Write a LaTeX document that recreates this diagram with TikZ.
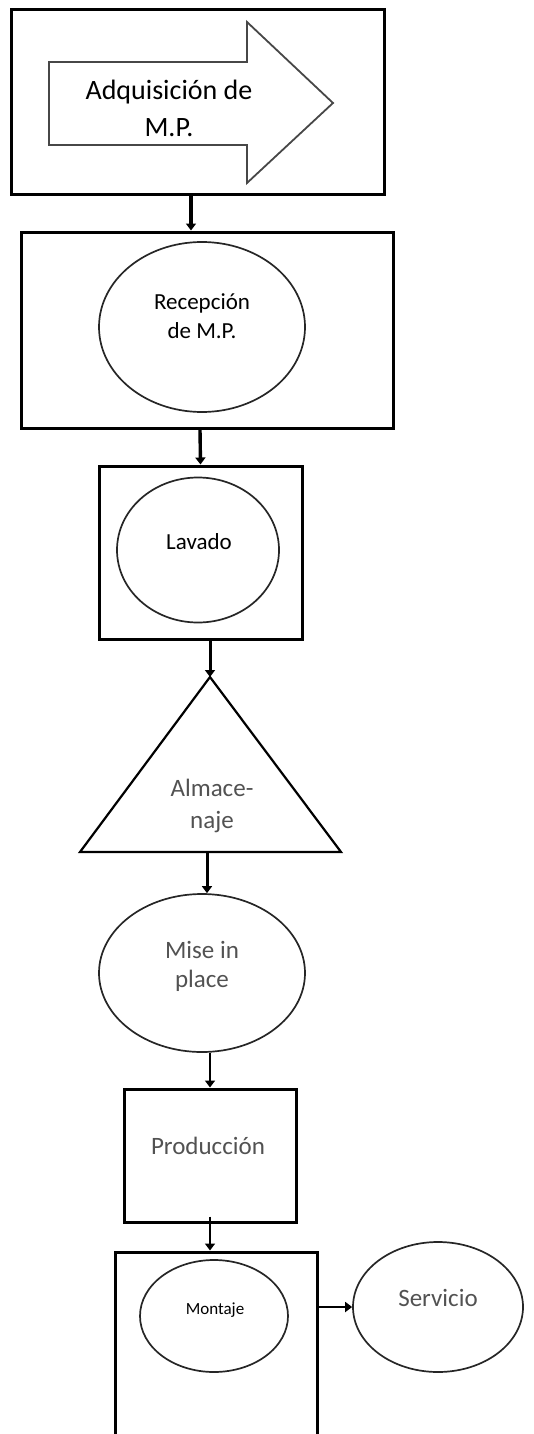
\documentclass[tikz,border=0pt]{standalone}
\usepackage{fontspec}
\setmainfont{Carlito}
\usetikzlibrary{arrows.meta,shapes.geometric}
\tikzset{
  frame/.style={draw=black, line width=3pt, rectangle, inner sep=0pt},
  oval/.style={draw=black!85, line width=1.7pt, ellipse, inner sep=0pt},
  label/.style={align=center, inner sep=0pt},
  darktext/.style={text=black},
  greytext/.style={text=black!68},
  flow/.style={draw=black, line width=3.4pt, -{Triangle[length=7pt,width=10pt]}},
}
\begin{document}
\begin{tikzpicture}[x=1pt,y=-1pt]
\useasboundingbox (0,0) rectangle (533,1434);
\clip (0,0) rectangle (533,1434);

% step 1: purchase of raw material
\node[frame, minimum width=373pt, minimum height=185pt] (box1) at (197.5,102.5) {};
\draw[black!72, line width=1.8pt, line join=miter]
  (49,62) -- (247,62) -- (247,22) -- (333,103) -- (247,183) -- (247,145) -- (49,145) -- cycle;
\node[label, darktext, font=\fontsize{28}{37}\selectfont] (adq) at (169,108) {Adquisición de\\M.P.};

% step 2: reception
\node[frame, minimum width=372pt, minimum height=196pt] (box2) at (207,330) {};
\node[oval, minimum width=206pt, minimum height=170pt] (rec) at (202,327) {};
\node[label, darktext, font=\fontsize{23}{29}\selectfont] at (202,316) {Recepción\\de M.P.};

% step 3: washing
\node[frame, minimum width=203pt, minimum height=173pt] (box3) at (200.5,552.5) {};
\node[oval, minimum width=162pt, minimum height=145pt] (lav) at (198,550) {};
\node[label, darktext, font=\fontsize{23}{29}\selectfont] at (199,542) {Lavado};

% step 4: storage
\coordinate (triTop) at (210,677);
\coordinate (triBot) at (207,852);
\draw[black, line width=2.2pt, line join=miter] (triTop) -- (341,852) -- (80,852) -- cycle;
\node[label, greytext, font=\fontsize{25}{32}\selectfont] (alm) at (212,806) {Almace-\\naje};

% step 5: mise in place
\node[oval, minimum width=206pt, minimum height=158pt] (mise) at (202,973) {};
\node[label, greytext, font=\fontsize{25}{29}\selectfont] at (202,966) {Mise in\\place};

% step 6: production
\node[frame, minimum width=172pt, minimum height=133pt] (prod) at (210,1155.5) {};
\node[label, greytext, font=\fontsize{25}{29}\selectfont] at (208,1146) {Producción};

% step 7: assembly and service
\node[frame, minimum width=202pt, minimum height=188pt] (mbox) at (216,1346) {};
\node[oval, minimum width=148pt, minimum height=112pt] (mont) at (214,1316) {};
\node[label, darktext, font=\fontsize{17}{20}\selectfont] at (215,1310) {Montaje};
\node[oval, minimum width=170pt, minimum height=130pt] (serv) at (438,1307) {};
\node[label, greytext, font=\fontsize{25}{29}\selectfont] at (438,1298) {Servicio};

% connectors
\draw[flow] ([xshift=-6.5pt]box1.south) -- ([xshift=-16pt]box2.north);
\draw[flow] ([xshift=-7pt]box2.south) -- (box3.north);
\draw[flow, line width=3pt] ([xshift=9.5pt]box3.south) -- (triTop);
\draw[flow, line width=3pt] (triBot) -- ([xshift=5pt]mise.north);
\draw[flow, line width=2.6pt] ([xshift=8pt]mise.south) -- (prod.north);
\draw[flow, line width=2.6pt] ([yshift=7pt]prod.south) -- ([xshift=-6pt]mbox.north);
\draw[flow, line width=2.6pt] (mbox.east |- serv.west) -- (serv.west);
\end{tikzpicture}
\end{document}
